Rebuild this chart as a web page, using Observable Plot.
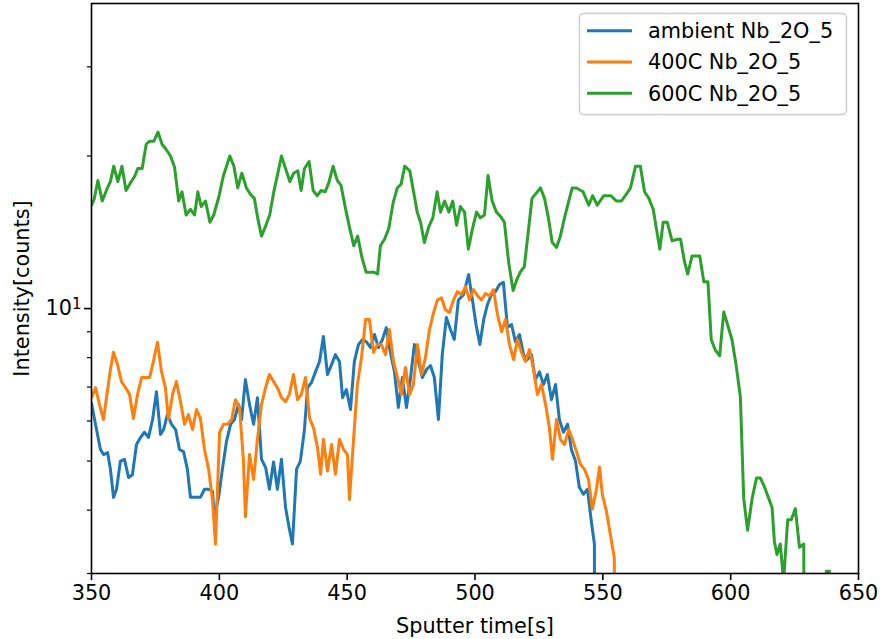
<!DOCTYPE html>
<html>
<head>
<meta charset="utf-8">
<script src="https://cdn.jsdelivr.net/npm/d3@7"></script>
<script src="https://cdn.jsdelivr.net/npm/@observablehq/plot@0.6"></script>
<style>
  body { margin: 0; background: #fff; }
  #wrap { position: relative; width: 881px; height: 639px; font-family: "DejaVu Sans", sans-serif; }
  #legend { position: absolute; left: 0; top: 0; pointer-events: none; }
</style>
</head>
<body>
<div id="wrap"></div>
<script>
// Series labels and colours
const seriesLabels = ["ambient Nb_2O_5", "400C Nb_2O_5", "600C Nb_2O_5"];
const seriesColors = ["#1f77b4", "#ff7f0e", "#2ca02c"];

// Axis ticks
const xTicks = [350, 400, 450, 500, 550, 600, 650];
const yMajorTicks = [10];
const yMajorBase = ["10"];
const yMajorExp = ["1"];
const yMinorTicks = [3, 4, 5, 6, 7, 8, 9, 20, 30];

// [sputter time (s), intensity (counts)]; 0.01 marks a drop to zero (off the log axis)
const ambient = [[350.0,6.5],[351.6,5.9],[353.5,5.27],[354.7,5.15],[356.3,5.2],[357.4,4.82],[358.6,4.24],[359.8,4.4],[361.3,5.0],[362.9,5.04],[364.5,4.64],[366.0,4.7],[367.6,5.39],[369.2,5.57],[370.7,5.7],[372.3,5.57],[373.9,6.04],[375.4,6.85],[377.0,5.64],[378.2,5.77],[379.7,6.18],[381.3,5.91],[382.9,5.77],[384.4,5.27],[386.0,5.22],[387.5,4.82],[388.7,4.24],[390.7,4.24],[392.6,4.24],[394.2,4.4],[395.8,4.4],[397.3,4.36],[398.1,3.88],[399.7,4.24],[401.2,4.82],[402.8,5.47],[404.4,5.91],[405.9,6.04],[407.5,6.47],[408.7,6.04],[410.2,7.24],[411.8,6.47],[413.4,5.91],[414.9,6.67],[416.5,5.04],[418.1,4.86],[419.6,4.4],[421.2,4.98],[422.7,4.4],[424.3,5.04],[425.9,4.05],[427.4,3.67],[428.6,3.43],[430.2,4.82],[431.7,5.0],[433.3,5.77],[434.5,6.98],[436.0,7.14],[437.6,7.5],[439.2,7.86],[440.7,8.81],[442.3,7.41],[443.9,7.75],[445.4,8.11],[447.0,7.86],[448.2,6.67],[449.7,6.92],[451.3,6.32],[452.8,7.86],[454.4,8.49],[456.0,8.69],[457.5,8.6],[459.1,8.38],[460.7,8.89],[462.2,8.38],[463.8,8.69],[465.3,9.17],[466.9,8.2],[468.5,7.5],[470.0,6.38],[471.6,7.31],[473.2,6.38],[474.8,7.31],[476.3,8.49],[477.9,7.86],[479.4,7.31],[481.0,7.58],[482.6,7.72],[484.1,7.31],[485.7,6.04],[487.2,8.11],[488.8,9.6],[490.4,9.09],[491.9,8.69],[493.5,10.4],[495.5,10.65],[497.5,11.67],[499.0,10.4],[500.4,9.3],[501.9,8.49],[503.4,9.51],[504.9,10.2],[506.4,10.65],[508.0,10.8],[509.6,11.15],[511.1,11.27],[512.7,9.17],[514.3,9.3],[515.8,8.6],[517.4,8.89],[519.0,8.11],[520.5,7.93],[522.1,8.11],[523.6,7.24],[525.2,7.5],[526.8,7.08],[528.3,7.41],[529.9,6.61],[531.5,7.08],[533.0,6.04],[534.6,5.7],[536.2,5.91],[537.7,5.27],[539.3,5.0],[540.8,4.44],[542.4,4.3],[544.0,4.4],[545.5,3.8],[546.7,3.43],[547.6,0.01]];

const c400 = [[350.0,6.67],[351.6,6.98],[353.1,6.47],[354.7,6.04],[356.3,6.92],[357.4,7.58],[358.6,8.2],[360.2,7.75],[361.7,7.18],[363.3,6.98],[364.9,6.77],[366.4,6.07],[368.0,6.77],[369.6,7.31],[371.1,7.31],[372.7,7.31],[374.2,7.86],[375.8,8.58],[377.4,7.5],[378.9,6.98],[380.1,6.04],[381.7,6.77],[383.2,7.18],[384.8,6.55],[386.4,5.91],[387.9,6.18],[389.5,5.77],[391.1,6.32],[392.6,6.07],[394.2,5.27],[395.8,4.82],[397.3,4.2],[398.5,3.43],[400.1,5.7],[401.6,5.91],[403.2,5.91],[404.8,6.04],[406.3,6.61],[407.9,6.38],[409.4,5.04],[410.2,3.88],[411.8,5.15],[413.4,4.6],[414.9,5.52],[416.5,6.47],[418.1,6.98],[419.6,7.41],[421.2,7.18],[422.7,6.98],[424.3,6.67],[425.9,6.55],[427.4,6.77],[429.0,7.41],[430.6,6.61],[432.1,6.77],[433.7,7.31],[435.3,6.07],[436.8,5.82],[438.4,5.32],[439.6,4.71],[440.7,5.52],[442.3,4.78],[443.9,5.39],[445.4,4.71],[447.0,5.52],[448.6,5.27],[450.1,5.15],[450.9,4.2],[452.5,5.52],[454.0,7.08],[455.6,8.0],[457.2,9.51],[458.7,9.51],[460.3,8.2],[461.8,8.49],[463.4,8.49],[465.0,8.11],[466.5,9.09],[468.1,7.86],[469.7,7.31],[471.2,6.77],[472.8,7.65],[474.4,6.77],[475.9,7.08],[477.5,8.49],[479.1,7.41],[480.6,8.0],[482.2,9.09],[483.8,9.82],[485.3,10.4],[486.9,10.5],[488.4,9.95],[490.0,9.82],[491.6,10.4],[493.1,10.8],[494.7,10.65],[496.3,11.05],[497.8,10.4],[499.4,10.9],[501.0,10.6],[502.5,10.4],[504.1,10.7],[505.7,10.6],[507.2,10.9],[508.8,9.73],[510.4,9.0],[511.9,9.51],[513.5,8.49],[515.1,7.93],[516.6,8.69],[518.2,8.2],[519.7,7.86],[521.3,8.3],[522.9,7.58],[524.4,6.77],[526.0,7.08],[527.6,6.47],[529.1,5.82],[530.3,5.04],[531.9,6.04],[533.4,5.52],[535.0,5.39],[536.6,5.77],[538.1,5.52],[539.7,5.22],[541.2,4.93],[542.8,4.82],[544.4,4.6],[545.9,4.02],[547.5,4.4],[548.7,4.87],[549.8,4.3],[551.4,3.98],[553.0,3.57],[554.5,3.22],[555.2,0.01]];

const c600 = [[350.0,16.0],[351.0,16.4],[352.5,17.9],[354.2,16.3],[356.0,17.2],[357.4,17.8],[358.7,19.1],[360.3,17.8],[361.9,19.1],[363.5,17.1],[365.2,17.7],[366.8,18.2],[368.1,18.9],[369.8,18.9],[371.4,21.1],[372.7,21.4],[374.4,21.4],[376.0,22.3],[377.6,21.1],[379.2,20.6],[380.9,20.0],[382.5,19.0],[384.1,16.3],[385.4,17.0],[387.0,15.3],[388.7,15.7],[390.3,15.3],[391.6,17.0],[392.9,15.9],[394.6,16.3],[396.3,14.8],[397.8,15.3],[399.8,16.6],[401.5,18.2],[404.1,20.0],[405.7,19.1],[407.2,17.3],[408.8,18.5],[410.6,17.3],[412.2,16.8],[413.7,16.5],[415.0,15.1],[416.5,13.9],[418.0,14.5],[419.7,15.3],[421.3,17.0],[422.9,18.5],[424.3,20.0],[425.9,18.9],[427.6,17.8],[429.1,18.5],[430.7,18.7],[432.0,17.1],[433.3,18.9],[435.1,19.5],[436.7,17.1],[438.3,16.7],[439.8,17.1],[441.4,17.0],[442.8,17.7],[444.5,19.1],[446.1,17.9],[447.6,17.5],[449.3,15.8],[451.0,14.4],[452.6,13.3],[454.1,13.9],[455.8,12.6],[457.4,11.8],[460.4,11.8],[461.9,11.7],[463.0,13.3],[464.6,13.7],[466.3,14.4],[468.0,16.2],[469.6,17.3],[471.1,17.6],[472.5,19.1],[474.5,18.7],[475.8,17.2],[477.4,15.5],[478.7,14.8],[480.2,13.5],[481.9,14.5],[483.5,15.1],[485.2,17.0],[486.5,15.5],[488.1,16.3],[489.8,15.5],[491.3,16.3],[492.8,14.6],[494.3,15.9],[495.9,15.5],[497.4,13.1],[498.9,14.3],[500.6,15.5],[502.1,15.1],[503.7,15.3],[505.1,18.3],[506.7,16.3],[508.4,15.5],[510.0,15.2],[511.5,14.8],[513.2,12.3],[514.9,10.85],[516.5,11.45],[517.7,11.8],[519.3,12.1],[522.3,16.5],[525.6,17.3],[527.2,16.5],[528.8,15.0],[530.2,13.5],[531.9,13.2],[533.4,13.9],[535.0,15.1],[538.0,17.3],[539.7,17.3],[542.3,17.0],[544.5,16.0],[546.0,16.7],[547.8,16.0],[550.4,16.7],[553.2,16.7],[555.3,16.3],[557.2,16.3],[558.8,16.7],[560.8,17.3],[562.8,19.1],[564.7,19.1],[566.3,17.0],[568.0,16.5],[569.7,15.7],[572.3,13.1],[573.6,14.8],[575.2,14.8],[577.1,13.6],[579.1,13.7],[580.4,13.7],[581.9,12.4],[583.2,11.7],[584.9,12.7],[587.9,12.7],[589.5,11.3],[591.1,11.3],[592.4,8.69],[594.0,8.28],[595.7,8.07],[597.3,9.85],[600.5,8.69],[602.2,7.69],[603.8,6.69],[605.1,4.22],[606.6,3.65],[608.4,4.22],[610.1,4.63],[611.6,4.63],[613.2,4.45],[616.2,4.05],[617.1,3.47],[618.1,3.27],[619.4,3.43],[620.7,2.9],[622.3,3.83],[623.7,3.83],[625.3,4.03],[626.9,3.38],[628.6,3.43],[629.8,0.01],[636.2,0.01],[637.4,3.03],[638.6,3.03],[639.8,0.01]];

const seriesData = [ambient, c400, c600];
const rows = seriesData.flatMap((arr, i) => arr.map(([t, v]) => ({t, v, series: seriesLabels[i]})));

const font = "DejaVu Sans, sans-serif";
const fs = 20.8;
const chart = Plot.plot({
  width: 881,
  height: 639,
  marginLeft: 91,
  marginRight: 23,
  marginTop: 3,
  marginBottom: 66,
  style: {fontFamily: font, fontSize: fs + "px", color: "black", background: "white"},
  x: {domain: [350, 650]},
  y: {type: "log", domain: [3, 40]},
  color: {domain: seriesLabels, range: seriesColors},
  marks: [
    Plot.line(rows, {x: "t", y: "v", z: "series", stroke: "series", strokeWidth: 3, clip: true, strokeLinejoin: "round"}),
    Plot.frame({stroke: "black", strokeWidth: 1.6}),
    Plot.axisX(xTicks, {tickSize: 7, tickPadding: 5, fontSize: fs, label: null, tickFormat: d => String(d), strokeWidth: 1.6}),
    Plot.axisY(yMajorTicks, {tickSize: 7, tickPadding: 3, fontSize: fs, label: null, tickFormat: d => yMajorBase[yMajorTicks.indexOf(d)] + "^" + yMajorExp[yMajorTicks.indexOf(d)], strokeWidth: 1.6}),
    Plot.axisY(yMinorTicks, {tickSize: 4, label: null, tickFormat: () => "", strokeWidth: 1.2}),
    Plot.text(["Sputter time[s]"], {frameAnchor: "bottom", dy: 53, lineAnchor: "middle", textAnchor: "middle", fontSize: fs, fill: "black"}),
    Plot.text(["Intensity[counts]"], {frameAnchor: "left", dx: -69, rotate: -90, textAnchor: "middle", lineAnchor: "middle", fontSize: fs, fill: "black"})
  ]
});

// Render "10^1" labels as base + superscript tspan (real text)
d3.select(chart).selectAll("text").each(function() {
  const el = d3.select(this);
  const s = this.textContent;
  const m = /^(\d+)\^(\d+)$/.exec(s);
  if (m) {
    el.text(null);
    el.append("tspan").text(m[1]);
    el.append("tspan").attr("dy", "-0.42em").attr("font-size", "0.72em").text(m[2]);
  }
});

const wrap = document.getElementById("wrap");
wrap.appendChild(chart);

// Legend (matplotlib style, upper right)
const leg = d3.select(wrap).append("svg")
  .attr("id", "legend").attr("width", 881).attr("height", 639);
leg.append("rect")
  .attr("x", 579.5).attr("y", 13.5).attr("width", 267).attr("height", 101)
  .attr("rx", 4).attr("fill", "white").attr("fill-opacity", 0.8)
  .attr("stroke", "#cccccc").attr("stroke-width", 1.4);
seriesLabels.forEach((lab, i) => {
  const cy = 30.7 + i * 31.3;
  leg.append("line").attr("x1", 588.5).attr("x2", 630.5).attr("y1", cy).attr("y2", cy)
    .attr("stroke", seriesColors[i]).attr("stroke-width", 3).attr("stroke-linecap", "square");
  leg.append("text").attr("x", 648).attr("y", cy).attr("dy", "0.35em")
    .attr("font-family", font).attr("font-size", fs).attr("fill", "black").text(lab);
});
</script>
</body>
</html>
